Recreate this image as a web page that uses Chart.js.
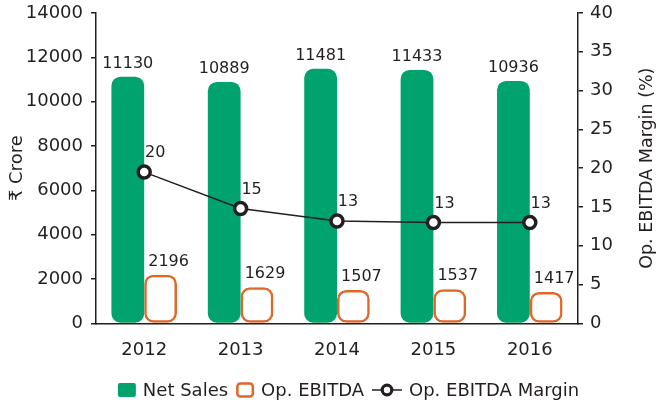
<!DOCTYPE html>
<html>
<head>
<meta charset="utf-8">
<script src="https://cdn.jsdelivr.net/npm/chart.js@4"></script>
<style>
  body { margin: 0; background: #fff; }
  #wrap { width: 663px; height: 407px; }
</style>
</head>
<body>
<div id="wrap"><canvas id="myChart"></canvas></div>
<script>
'use strict';

// <------------------ DATA ------------------>

let years = ['2012', '2013', '2014', '2015', '2016'];
let netSales = [11130, 10889, 11481, 11433, 10936];
let opEbitda = [2196, 1629, 1507, 1537, 1417];
let ebitdaMargin = [19.5, 14.8, 13.2, 13.0, 13.0];
let marginLabels = ['20', '15', '13', '13', '13'];

let leftTicks = [0, 14000, 2000];
let rightTicks = [0, 40, 5];

let leftTitle = '₹ Crore';
let rightTitle = 'Op. EBITDA Margin (%)';

// <------------------ STYLE ------------------>

let ink = '#231f20';
let green = '#00a36e';
let orange = '#e0672a';
let fontName = '"DejaVu Sans", sans-serif';

Chart.defaults.font.family = fontName;
Chart.defaults.color = ink;

// <------------------ VALUE LABELS ------------------>

let valueLabels = {
  id: 'valueLabels',
  afterDatasetsDraw(chart) {
    let ctx = chart.ctx;
    ctx.save();
    ctx.fillStyle = ink;
    ctx.font = '16px ' + fontName;
    ctx.textAlign = 'center';
    ctx.textBaseline = 'middle';
    chart.data.datasets.forEach(function (ds, i) {
      let meta = chart.getDatasetMeta(i);
      meta.data.forEach(function (el, j) {
        let txt = ds.labelTexts ? ds.labelTexts[j] : String(ds.data[j]);
        ctx.fillText(txt, el.x + ds.labelDx, el.y + ds.labelDy);
      });
    });
    ctx.restore();
  }
};

// <------------------ AXIS TITLES + LEGEND ------------------>

let extras = {
  id: 'extras',
  afterDraw(chart) {
    let ctx = chart.ctx;
    let area = chart.chartArea;
    let midY = (area.top + area.bottom) / 2;
    ctx.save();
    ctx.fillStyle = ink;
    ctx.textAlign = 'center';
    ctx.textBaseline = 'middle';

    // both titles read bottom to top
    ctx.font = '18px ' + fontName;
    ctx.save();
    ctx.translate(17, midY);
    ctx.rotate(-Math.PI / 2);
    ctx.fillText(leftTitle, 0, 0);
    ctx.restore();

    ctx.font = '17.5px ' + fontName;
    ctx.save();
    ctx.translate(chart.width - 16, midY);
    ctx.rotate(-Math.PI / 2);
    ctx.fillText(rightTitle, 0, 0);
    ctx.restore();

    // legend
    ctx.font = '18px ' + fontName;
    ctx.textAlign = 'left';
    let items = chart.data.datasets.map(function (ds) {
      return { ds: ds, markW: ds.type === 'line' ? 30 : 18, textW: ctx.measureText(ds.label).width };
    });
    let gapIn = 7;
    let gapOut = 8;
    let total = 0;
    items.forEach(function (it, k) {
      total += it.markW + gapIn + it.textW + (k < items.length - 1 ? gapOut : 0);
    });
    let x = chart.width / 2 + 17 - total / 2;
    let y = chart.height - 17;
    items.forEach(function (it) {
      let ds = it.ds;
      if (ds.type === 'line') {
        ctx.strokeStyle = ink;
        ctx.lineWidth = 1.5;
        ctx.beginPath();
        ctx.moveTo(x, y);
        ctx.lineTo(x + 30, y);
        ctx.stroke();
        ctx.fillStyle = '#fff';
        ctx.lineWidth = 3.2;
        ctx.beginPath();
        ctx.arc(x + 15, y, 4.8, 0, Math.PI * 2);
        ctx.fill();
        ctx.stroke();
      } else if (ds.borderWidth > 0) {
        ctx.strokeStyle = ds.borderColor;
        ctx.lineWidth = 2.5;
        ctx.beginPath();
        ctx.roundRect(x + 1.25, y - 6.5, 15.5, 13, 3);
        ctx.stroke();
      } else {
        ctx.fillStyle = ds.backgroundColor;
        ctx.beginPath();
        ctx.roundRect(x, y - 7, 18, 14, 2);
        ctx.fill();
      }
      x += it.markW + gapIn;
      ctx.fillStyle = ink;
      ctx.fillText(ds.label, x, y + 1);
      x += it.textW + gapOut;
    });
    ctx.restore();
  }
};

// <------------------ CHART ------------------>

let ctx = document.getElementById('myChart').getContext('2d');

let plainNumber = function (v) { return String(v); };

// fixed axis widths and top inset, as in the source layout
let fitLeft = function (s) { s.width = 96; s.paddingTop = 13; };
let fitRight = function (s) { s.width = 85; s.paddingTop = 13; };

let myChart = new Chart(ctx, {
  type: 'bar',
  data: {
    labels: years,
    datasets: [{
      label: 'Net Sales',
      data: netSales,
      backgroundColor: green,
      borderWidth: 0,
      borderRadius: 9,
      borderSkipped: false,
      categoryPercentage: 0.68,
      barPercentage: 1,
      yAxisID: 'y',
      order: 1,
      labelDx: 0,
      labelDy: -13
    }, {
      label: 'Op. EBITDA',
      data: opEbitda,
      backgroundColor: 'rgba(255,255,255,0)',
      borderColor: orange,
      borderWidth: 2.5,
      borderRadius: 9,
      borderSkipped: false,
      categoryPercentage: 0.68,
      barPercentage: 1,
      yAxisID: 'y',
      order: 1,
      labelDx: 8,
      labelDy: -13
    }, {
      type: 'line',
      label: 'Op. EBITDA Margin',
      data: ebitdaMargin,
      labelTexts: marginLabels,
      borderColor: ink,
      borderWidth: 1.5,
      pointStyle: 'circle',
      pointRadius: 6,
      pointBorderWidth: 3.5,
      pointBackgroundColor: '#fff',
      pointBorderColor: ink,
      tension: 0,
      yAxisID: 'y1',
      order: 0,
      labelDx: 11,
      labelDy: -19
    }]
  },
  options: {
    responsive: true,
    maintainAspectRatio: false,
    animation: false,
    layout: { padding: { top: 0, right: 0, bottom: 38, left: 0 } },
    plugins: {
      tooltip: { enabled: false },
      legend: { display: false }
    },
    scales: {
      x: {
        grid: { display: false },
        border: { color: ink, width: 1.5 },
        ticks: { color: ink, font: { size: 18 }, padding: 8 }
      },
      y: {
        position: 'left',
        min: leftTicks[0],
        max: leftTicks[1],
        ticks: { stepSize: leftTicks[2], color: ink, font: { size: 18, lineHeight: 1 }, padding: 8, callback: plainNumber },
        grid: { drawOnChartArea: false, tickLength: 5, color: ink, lineWidth: 1.5 },
        border: { color: ink, width: 1.5 },
        afterFit: fitLeft
      },
      y1: {
        position: 'right',
        min: rightTicks[0],
        max: rightTicks[1],
        ticks: { stepSize: rightTicks[2], color: ink, font: { size: 18, lineHeight: 1 }, padding: 7, callback: plainNumber },
        grid: { drawOnChartArea: false, tickLength: 5, color: ink, lineWidth: 1.5 },
        border: { color: ink, width: 1.5 },
        afterFit: fitRight
      }
    }
  },
  plugins: [valueLabels, extras]
});
</script>
</body>
</html>
